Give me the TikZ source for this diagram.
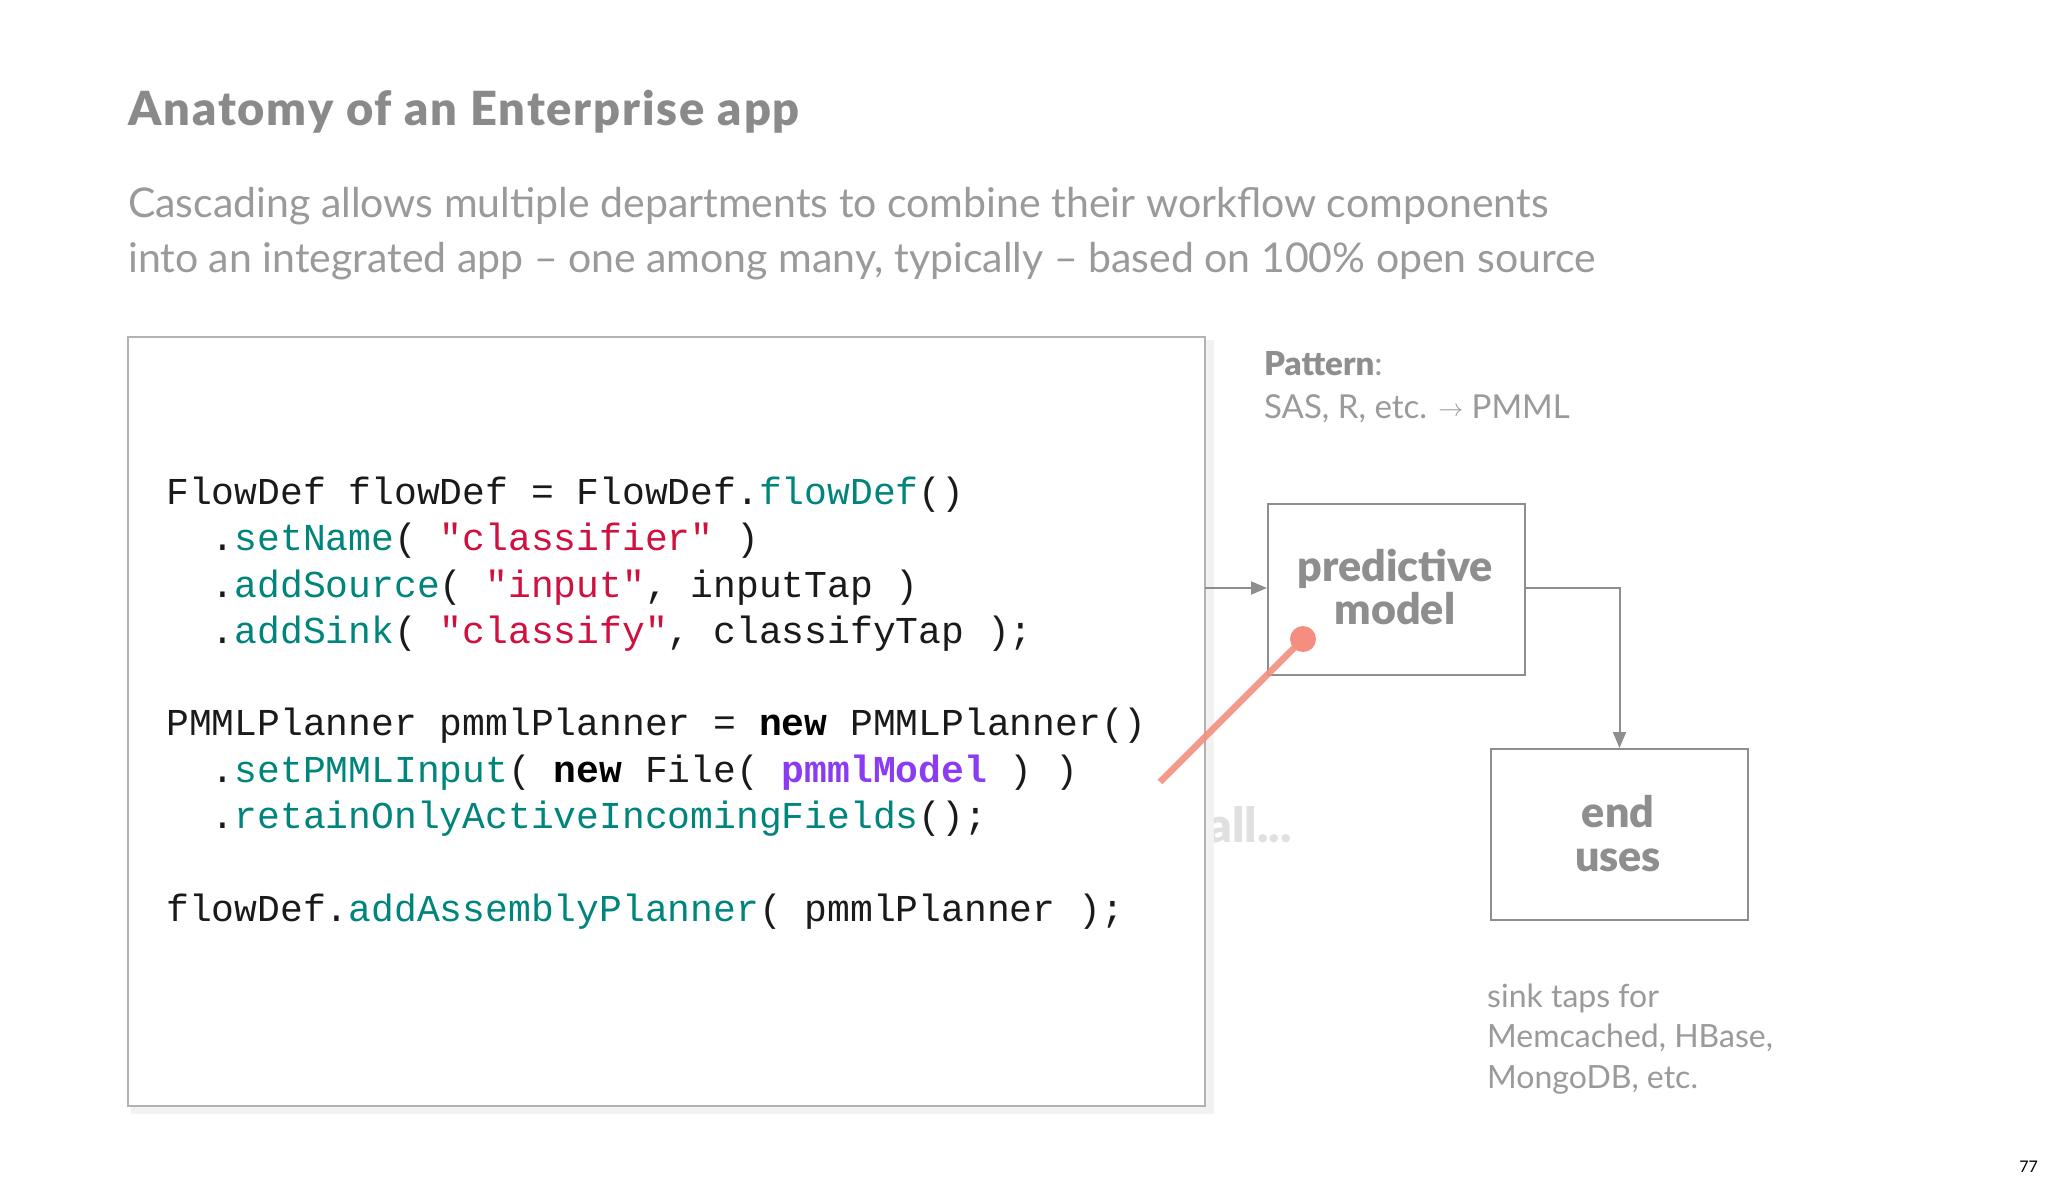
\documentclass[tikz,border=0pt]{standalone}
\usepackage{fontspec}
\setmainfont{Lato}
\newfontfamily\heavy{Lato Black}
\newfontfamily\heavywide{Lato Black}[LetterSpace=4]
\newfontfamily\codefont{Liberation Mono}
\usetikzlibrary{arrows.meta}
\definecolor{tgray}{HTML}{8A8A8A}
\definecolor{sgray}{HTML}{9A9A9A}
\definecolor{lgray}{HTML}{8E8E8E}
\definecolor{teal2}{HTML}{00857D}
\definecolor{red2}{HTML}{D0103F}
\definecolor{purp}{HTML}{8B3CF0}
\definecolor{codek}{HTML}{1A1A1A}
\definecolor{salmon}{HTML}{F58E7E}
\newcommand{\tl}[1]{\textcolor{teal2}{#1}}
\newcommand{\rd}[1]{\textcolor{red2}{#1}}
\newcommand{\kw}[1]{\textcolor{black}{\bfseries #1}}
\begin{document}
\begin{tikzpicture}[x=1pt,y=-1pt,
  code/.style={anchor=base west,inner sep=0,font=\fontsize{38}{40}\codefont,text=codek},
  box/.style={draw=lgray,line width=2pt,fill=white},
  boxt/.style={anchor=base,inner sep=0,font=\fontsize{43}{45}\heavy,text=lgray},
  side/.style={anchor=base west,inner sep=0,font=\fontsize{32}{34}\selectfont,text=sgray},
  conn/.style={draw=lgray,line width=2pt,-{Triangle[length=16pt,width=13pt]}}]
\useasboundingbox[fill=white] (0,0) rectangle (2048,1184);
\node[anchor=base west,inner sep=0,font=\fontsize{47}{49}\heavywide,text=tgray] (title) at (128,125) {Anatomy of an Enterprise app};
\node[anchor=base west,inner sep=0,font=\fontsize{41}{43}\selectfont,text=sgray] (sub1) at (128,217) {Cascading allows multiple departments to combine their workflow components};
\node[anchor=base west,inner sep=0,font=\fontsize{41}{43}\selectfont,text=sgray] (sub2) at (128,272) {into an integrated app -- one among many, typically -- based on 100\% open source};
% faded text behind box
\node[anchor=base east,inner sep=0,font=\fontsize{48}{50}\heavy,text=black!12] (all) at (1292,842) {all...};
% shadow + code box
\fill[black!10] (133,342) rectangle (1210,1110);
\fill[black!5] (131,340) rectangle (1214,1114);
\node[box,draw=black!30,minimum width=1077pt,minimum height=769pt,anchor=north west] (codebox) at (127,336) {};
\node[code] (c1) at (166,504) {FlowDef flowDef = FlowDef.\tl{flowDef}()};
\node[code] (c2) at (166,550) {\ \ .\tl{setName}( \rd{"classifier"} )};
\node[code] (c3) at (166,597) {\ \ .\tl{addSource}( \rd{"input"}, inputTap )};
\node[code] (c4) at (166,643) {\ \ .\tl{addSink}( \rd{"classify"}, classifyTap );};
\node[code] (c5) at (166,735) {PMMLPlanner pmmlPlanner = \kw{new} PMMLPlanner()};
\node[code] (c6) at (166,782) {\ \ .\tl{setPMMLInput}( \kw{new} File( \textcolor{purp}{\bfseries pmmlModel} ) )};
\node[code] (c7) at (166,828) {\ \ .\tl{retainOnlyActiveIncomingFields}();};
\node[code] (c8) at (166,921) {flowDef.\tl{addAssemblyPlanner}( pmmlPlanner );};
% right side
\node[anchor=base west,inner sep=0,font=\fontsize{33}{35}\selectfont,text=sgray] (pat) at (1264,375) {{\heavy\textcolor{lgray}{Pattern}}:};
\node[side,font=\fontsize{33}{35}\selectfont] (pat2) at (1264,418) {SAS, R, etc. \raisebox{2pt}{\fontsize{40}{40}\selectfont$\rightarrow$} PMML};
\node[box,minimum width=257pt,minimum height=171pt,anchor=north west] (pm) at (1267,503) {};
\node[boxt] (pmt1) at (1395,581) {predictive};
\node[boxt] (pmt2) at (1395,624) {model};
\node[box,minimum width=257pt,minimum height=171pt,anchor=north west] (eu) at (1490,748) {};
\node[boxt] (eut1) at (1618,827) {end};
\node[boxt] (eut2) at (1618,871) {uses};
\coordinate (cin) at (1205,588);
\draw[conn] (cin) -- (pm.west |- cin);
\draw[conn] (pm.east |- cin) -| (eu.north);
\node[side] (s1) at (1487,1007) {sink taps for};
\node[side] (s2) at (1487,1047) {Memcached, HBase,};
\node[side] (s3) at (1487,1088) {MongoDB, etc.};
\coordinate (rs) at (1160,782);
\coordinate (re) at (1303,639);
\draw[salmon,opacity=0.9,line width=6.5pt] (rs) -- (re);
\fill[salmon] (re) circle (13pt);
\node[anchor=base east,inner sep=0,font=\fontsize{16}{18}\selectfont,text=black] (pg) at (2038,1172) {77};
\end{tikzpicture}
\end{document}
